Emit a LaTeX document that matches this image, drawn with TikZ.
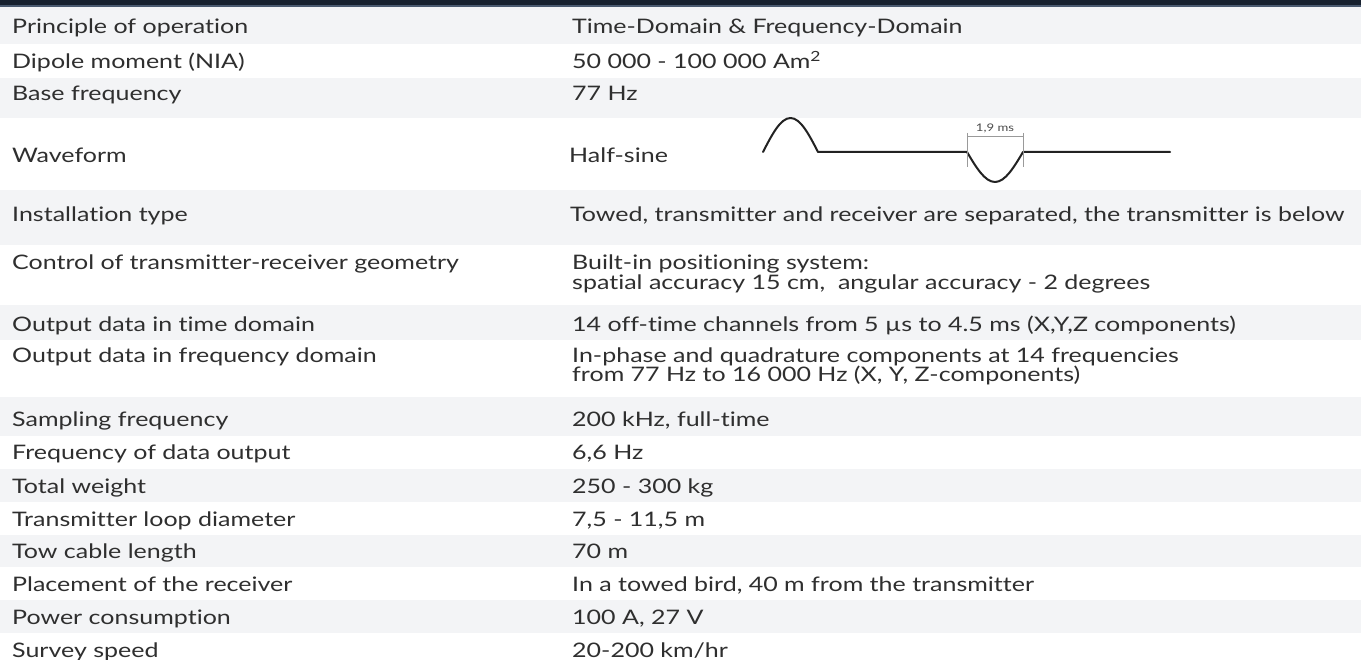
\documentclass[tikz,border=0pt]{standalone}
\usepackage{fontspec}
\setmainfont{Lato}
\newfontfamily\tabfont[FakeStretch=1.25,Ligatures={NoCommon,NoRare,NoContextual}]{Lato}
\definecolor{txt}{HTML}{2F2F2F}
\definecolor{band}{HTML}{F3F4F6}
\definecolor{navy}{HTML}{17212F}
\definecolor{navyline}{HTML}{4A5A70}
\definecolor{bracketgray}{HTML}{9A9A9A}
\definecolor{wavecol}{HTML}{222222}
\begin{document}
\begin{tikzpicture}[x=1pt,y=-1pt,
  lab/.style={anchor=base west, inner sep=0pt, text=txt, font=\tabfont\fontsize{20}{20}\selectfont},
  val/.style={lab},
  bandrow/.style={fill=band, draw=none}]
\useasboundingbox (0,0) rectangle (1361,660);
\fill[white] (0,0) rectangle (1361,660);
% row bands
\foreach \a/\b in {7/44, 78/118, 190/245, 305/340, 397/436, 469/502, 535/567, 600/633}
  \fill[bandrow] (0,\a) rectangle (1361,\b);
% header bar
\fill[navy] (0,0) rectangle (1361,5);
\fill[navyline] (0,5) rectangle (1361,7);

% left labels
\node[lab] (l1)  at (12,34)  {Principle of operation};
\node[lab] (l2)  at (12,69)  {Dipole moment (NIA)};
\node[lab] (l3)  at (12,101) {Base frequency};
\node[lab] (l4)  at (12,163) {Waveform};
\node[lab] (l5)  at (12,222) {Installation type};
\node[lab] (l6)  at (12,270) {Control of transmitter-receiver geometry};
\node[lab] (l7)  at (12,332) {Output data in time domain};
\node[lab] (l8)  at (12,363) {Output data in frequency domain};
\node[lab] (l9)  at (12,427) {Sampling frequency};
\node[lab] (l10) at (12,460) {Frequency of data output};
\node[lab] (l11) at (12,493) {Total weight};
\node[lab] (l12) at (12,526) {Transmitter loop diameter};
\node[lab] (l13) at (12,558) {Tow cable length};
\node[lab] (l14) at (12,591) {Placement of the receiver};
\node[lab] (l15) at (12,624) {Power consumption};
\node[lab] (l16) at (12,657) {Survey speed};

% values
\node[val] (v1)  at (572,34)  {Time-Domain \& Frequency-Domain};
\node[val] (v2)  at (572,69)  {50 000 - 100 000 Am\textsuperscript{2}};
\node[val] (v3)  at (572,101) {77 Hz};
\node[val] (v4)  at (569,163) {Half-sine};
\node[val] (v5)  at (570,222) {Towed, transmitter and receiver are separated, the transmitter is below};
\node[val] (v6)  at (572,270) {Built-in positioning system:};
\node[val] (v6b) at (572,290) {spatial accuracy 15 cm,\ \ angular accuracy - 2 degrees};
\node[val] (v7)  at (572,332) {14 off-time channels from 5 µs to 4.5 ms (X,Y,Z components)};
\node[val] (v8)  at (572,363) {In-phase and quadrature components at 14 frequencies};
\node[val] (v8b) at (572,382) {from 77 Hz to 16 000 Hz (X, Y, Z-components)};
\node[val] (v9)  at (572,427) {200 kHz, full-time};
\node[val] (v10) at (572,460) {6,6 Hz};
\node[val] (v11) at (572,493) {250 - 300 kg};
\node[val] (v12) at (572,526) {7,5 - 11,5 m};
\node[val] (v13) at (572,558) {70 m};
\node[val] (v14) at (572,591) {In a towed bird, 40 m from the transmitter};
\node[val] (v15) at (572,624) {100 A, 27 V};
\node[val] (v16) at (572,657) {20-200 km/hr};

% waveform
\draw[wavecol, line width=2pt, line join=round, line cap=round]
  (763,152) sin (790.5,118) cos (818,152) -- (967,152)
  sin (995,182) cos (1023,152) -- (1170,152);
\draw[bracketgray, line width=0.9pt] (967,133) -- (967,167) (1023,133) -- (1023,167) (967,136) -- (1023,136);
\node[anchor=base, inner sep=0pt, text=black!70, font=\tabfont\fontsize{10.5}{11}\selectfont] (ms) at (995,132) {1,9 ms};
\end{tikzpicture}
\end{document}
